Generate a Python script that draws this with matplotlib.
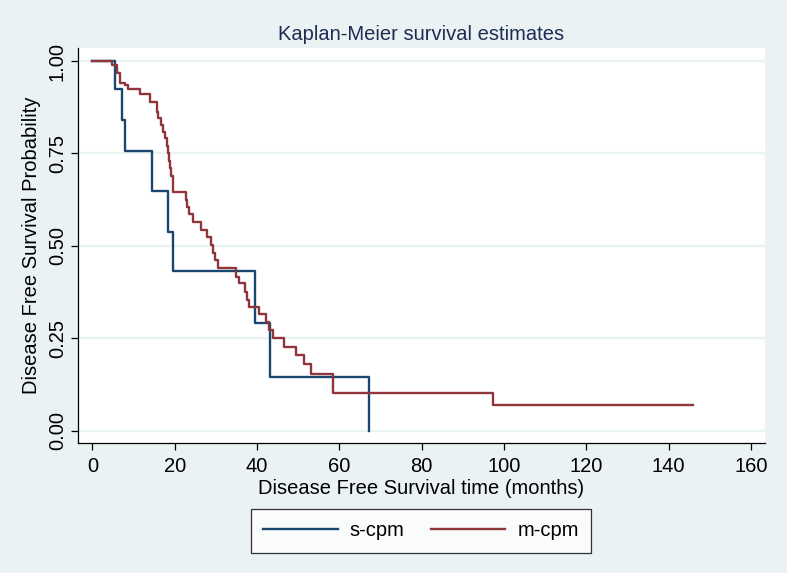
import matplotlib
matplotlib.use("Agg")
import matplotlib.pyplot as plt
from matplotlib.lines import Line2D

# ---- data ----
blue_label = "s-cpm"
red_label = "m-cpm"

blue_times = [0, 5.6, 7.3, 7.9, 14.4, 18.4, 19.5, 39.5, 43.1, 67.3]
blue_surv = [1.0, 0.923, 0.840, 0.756, 0.648, 0.538, 0.432, 0.290, 0.146, 0.0]

red_times = [0, 4.7, 5.9, 6.7, 7.9, 8.7, 11.6, 14.0, 15.6, 16.0, 16.6, 17.1, 17.6,
             18.2, 18.4, 18.7, 18.9, 19.2, 19.5, 22.7, 23.1, 23.5, 24.5, 26.5,
             27.8, 28.9, 29.4, 29.7, 30.5, 34.9, 35.7, 37.1, 37.6, 38.1, 40.5,
             42.2, 42.9, 43.8, 46.5, 49.5, 51.5, 53.2, 58.4, 97.2, 146.0]
red_surv = [1.0, 0.989, 0.967, 0.940, 0.935, 0.923, 0.912, 0.890, 0.863, 0.845,
            0.827, 0.809, 0.791, 0.770, 0.750, 0.730, 0.710, 0.690, 0.646, 0.624,
            0.605, 0.585, 0.565, 0.543, 0.523, 0.502, 0.480, 0.461, 0.439, 0.416,
            0.398, 0.376, 0.353, 0.335, 0.314, 0.293, 0.272, 0.250, 0.227, 0.204,
            0.179, 0.153, 0.102, 0.068, 0.068]

x_ticks = [0, 20, 40, 60, 80, 100, 120, 140, 160]
y_ticks = [0.0, 0.25, 0.5, 0.75, 1.0]
y_ticklabels = ["0.00", "0.25", "0.50", "0.75", "1.00"]

title = "Kaplan-Meier survival estimates"
xlabel = "Disease Free Survival time (months)"
ylabel = "Disease Free Survival Probability"

# ---- style ----
plt.rcParams['font.family'] = ['Liberation Sans', 'DejaVu Sans']
BG = "#eaf2f3"
BLUE = "#1a476f"
RED = "#90353b"
TXT = "#000000"
FS = 14.5

W, H = 787, 573
fig = plt.figure(figsize=(W / 100, H / 100), dpi=100, facecolor=BG)

def px_axes(l, t, r, b):
    return [l / W, 1 - b / H, (r - l) / W, (b - t) / H]

ax = fig.add_axes(px_axes(78, 48, 765, 443))
ax.set_facecolor("white")

ax.set_xlim(-3.5, 163.4)
ax.set_ylim(-0.0338, 1.0352)

for yv in y_ticks:
    ax.axhline(yv, color=BG, lw=1.6, zorder=1)

ax.step(blue_times, blue_surv, where="post", color=BLUE, lw=1.7, zorder=3)
ax.step(red_times, red_surv, where="post", color=RED, lw=1.7, zorder=4)

for s in ["top", "right"]:
    ax.spines[s].set_visible(False)
for s in ["left", "bottom"]:
    ax.spines[s].set_color("black")
    ax.spines[s].set_linewidth(0.9)

ax.set_xticks(x_ticks)
ax.set_xticklabels([str(v) for v in x_ticks], fontsize=FS, color=TXT)
ax.set_yticks(y_ticks)
ax.set_yticklabels(y_ticklabels, fontsize=FS, color=TXT, rotation=90, va="center")
ax.tick_params(axis="both", direction="out", length=5, width=0.9, color="black")
ax.tick_params(axis="y", pad=3)
ax.tick_params(axis="x", pad=5)

ax.set_xlabel(xlabel, fontsize=FS, color=TXT, labelpad=2)
ax.set_ylabel(ylabel, fontsize=FS, color=TXT, labelpad=5)

fig.text(421 / W, 1 - 35 / H, title, ha="center", va="center",
         fontsize=FS, color="#1e2d53")

handles = [Line2D([0], [0], color=BLUE, lw=1.7), Line2D([0], [0], color=RED, lw=1.7)]
leg = fig.legend(handles, [blue_label, red_label], loc="center",
                 bbox_to_anchor=(421 / W, 1 - 531 / H), ncol=2, fontsize=FS,
                 frameon=True, fancybox=False, edgecolor="black", facecolor="white",
                 handlelength=3.7, columnspacing=1.3, borderpad=0.6,
                 handletextpad=0.6, borderaxespad=0)
leg.get_frame().set_linewidth(0.9)

fig.savefig("out.png", dpi=100, facecolor=BG)
